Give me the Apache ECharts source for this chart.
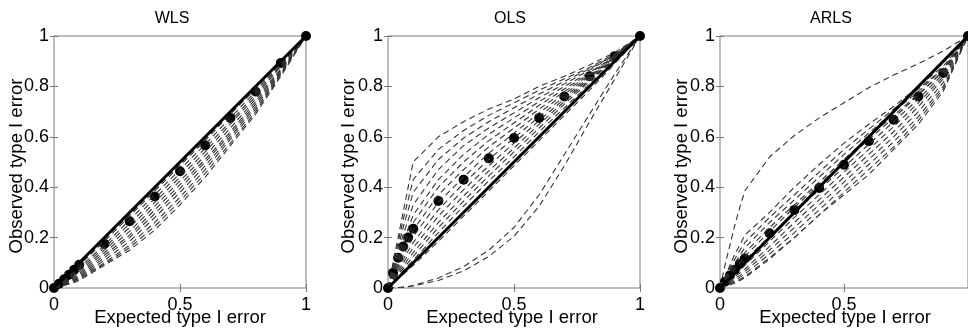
<!DOCTYPE html>
<html><head><meta charset="utf-8">
<script src="https://cdn.jsdelivr.net/npm/echarts@6/dist/echarts.min.js"></script>
<style>html,body{margin:0;padding:0;background:#fff}#c{width:968px;height:334px}</style>
</head><body><div id="c"></div><script>
// Expected type I error (x positions of every curve)
const xs = [0, 0.02, 0.04, 0.06, 0.08, 0.1, 0.2, 0.3, 0.4, 0.5, 0.6, 0.7, 0.8, 0.9, 1];
const xTicks = ['0', '0.5', '1'];
const yTicks = ['0', '0.2', '0.4', '0.6', '0.8', '1'];
const panelTitles = ['WLS', 'OLS', 'ARLS'];
const diag = [[0, 0], [1, 1]];

// Mean observed type I error (dots)
const wlsMean  = [0, .017, .035, .053, .072, .092, .175, .265, .363, .463, .566, .675, .78, .893, 1];
const olsMean  = [0, .06, .12, .165, .2, .235, .345, .43, .515, .595, .675, .76, .84, .92, 1];
const arlsMean = [0, .025, .05, .072, .095, .117, .217, .31, .397, .489, .582, .668, .76, .853, 1];

// Individual simulation curves (dashed)
const wlsCurves = [
  [0, .02, .04, .06, .08, .1, .2, .3, .4, .5, .6, .7, .8, .9, 1],
  [0, .019, .038, .057, .076, .095, .192, .292, .392, .492, .592, .695, .795, .897, 1],
  [0, .018, .036, .054, .072, .09, .185, .285, .385, .485, .585, .69, .79, .895, 1],
  [0, .016, .032, .048, .064, .08, .17, .27, .37, .47, .57, .675, .78, .89, 1],
  [0, .014, .028, .042, .056, .072, .16, .255, .355, .455, .555, .66, .77, .885, 1],
  [0, .012, .025, .037, .05, .065, .15, .24, .34, .44, .54, .65, .76, .88, 1],
  [0, .011, .022, .033, .045, .058, .14, .225, .325, .425, .525, .635, .75, .87, 1],
  [0, .01, .02, .03, .04, .052, .13, .21, .31, .41, .51, .62, .74, .865, 1],
  [0, .009, .018, .027, .036, .047, .12, .2, .295, .395, .5, .61, .73, .86, 1],
  [0, .008, .016, .024, .032, .043, .11, .185, .28, .38, .485, .6, .72, .855, 1],
  [0, .007, .014, .021, .029, .04, .1, .17, .26, .36, .47, .59, .71, .85, 1],
  [0, .006, .012, .018, .025, .035, .095, .16, .245, .345, .455, .575, .7, .845, 1],
  [0, .005, .01, .016, .022, .03, .09, .15, .23, .33, .44, .565, .69, .84, 1]
];
const olsCurves = [
  [0, .1, .2, .3, .4, .5, .6, .66, .71, .75, .8, .84, .885, .935, 1],
  [0, .09, .18, .27, .35, .43, .55, .625, .685, .735, .785, .83, .875, .93, 1],
  [0, .08, .16, .24, .31, .38, .51, .595, .66, .715, .77, .82, .87, .925, 1],
  [0, .07, .14, .21, .27, .33, .47, .565, .635, .695, .755, .81, .865, .925, 1],
  [0, .062, .124, .18, .235, .29, .43, .53, .61, .675, .74, .8, .855, .92, 1],
  [0, .055, .11, .16, .21, .26, .4, .5, .585, .655, .725, .79, .85, .92, 1],
  [0, .05, .097, .142, .185, .23, .37, .47, .56, .635, .71, .78, .845, .915, 1],
  [0, .044, .086, .126, .165, .205, .34, .44, .535, .615, .695, .77, .84, .915, 1],
  [0, .039, .076, .112, .147, .18, .31, .415, .51, .595, .68, .76, .835, .915, 1],
  [0, .034, .067, .099, .13, .16, .285, .39, .485, .575, .665, .75, .83, .91, 1],
  [0, .03, .059, .087, .115, .14, .26, .365, .465, .555, .65, .74, .825, .91, 1],
  [0, .026, .052, .077, .101, .125, .24, .345, .445, .54, .635, .73, .82, .91, 1],
  [0, .023, .046, .068, .09, .11, .22, .325, .425, .52, .62, .715, .81, .905, 1],
  [0, .02, .04, .06, .08, .1, .2, .3, .4, .5, .6, .7, .8, .9, 1],
  [0, .018, .036, .054, .072, .09, .185, .285, .385, .485, .585, .685, .785, .89, 1],
  [0, .001, .002, .004, .006, .01, .04, .085, .15, .24, .37, .53, .69, .85, 1],
  [0, .001, .002, .003, .005, .008, .03, .068, .125, .205, .325, .485, .66, .83, 1]
];
const arlsCurves = [
  [0, .09, .17, .25, .32, .385, .52, .605, .675, .735, .795, .845, .89, .94, 1],
  [0, .045, .09, .135, .17, .21, .3, .4, .49, .575, .65, .72, .8, .88, 1],
  [0, .04, .08, .115, .15, .18, .28, .37, .46, .55, .63, .71, .79, .87, 1],
  [0, .035, .07, .1, .13, .16, .26, .35, .44, .53, .615, .7, .78, .87, 1],
  [0, .03, .06, .09, .115, .14, .24, .33, .42, .51, .6, .685, .77, .86, 1],
  [0, .025, .05, .075, .1, .125, .225, .32, .41, .5, .59, .675, .765, .86, 1],
  [0, .022, .044, .066, .088, .11, .205, .3, .39, .48, .57, .66, .75, .85, 1],
  [0, .018, .036, .054, .072, .09, .185, .28, .37, .46, .55, .64, .735, .84, 1],
  [0, .015, .03, .045, .06, .075, .165, .26, .35, .44, .53, .62, .72, .83, 1],
  [0, .012, .025, .037, .05, .065, .15, .24, .33, .42, .51, .6, .7, .815, 1],
  [0, .01, .02, .03, .042, .055, .135, .22, .31, .4, .49, .58, .68, .8, 1],
  [0, .008, .016, .024, .034, .045, .12, .2, .29, .38, .47, .56, .665, .79, 1],
  [0, .006, .012, .02, .03, .04, .115, .2, .29, .37, .45, .55, .65, .78, 1]
];

const means = [wlsMean, olsMean, arlsMean];
const curves = [wlsCurves, olsCurves, arlsCurves];

// layout (pixels)
const FONT = "'Liberation Sans', Arial, Helvetica, sans-serif";
const grids = [
  {left: 54, top: 36, width: 252, height: 252},
  {left: 388, top: 36, width: 252, height: 252},
  {left: 720, top: 36, width: 248, height: 252}
];
const titleX = [172, 510, 831];
const xNameX = [180, 512, 845];
const yNameX = [17, 349, 682];
const showLastX = [true, true, false];

const axisGray = '#7a7a7a';
const xAxes = [], yAxes = [], series = [], graphics = [];
grids.forEach((g, i) => {
  const tick = {inside: true, length: 4, lineStyle: {color: axisGray, width: 1}};
  xAxes.push({type: 'value', gridIndex: i, min: 0, max: 1, interval: 0.5, position: 'bottom',
    axisLine: {show: false}, axisTick: tick, splitLine: {show: false},
    axisLabel: {margin: 8, fontSize: 18, color: '#000', fontFamily: FONT, showMaxLabel: showLastX[i],
      formatter: v => xTicks[Math.round(v * 2)]}});
  xAxes.push({type: 'value', gridIndex: i, min: 0, max: 1, interval: 0.5, position: 'top',
    axisLine: {show: false}, axisTick: tick, splitLine: {show: false}, axisLabel: {show: false}});
  yAxes.push({type: 'value', gridIndex: i, min: 0, max: 1, interval: 0.2, position: 'left',
    axisLine: {show: false}, axisTick: tick, splitLine: {show: false},
    axisLabel: {margin: 5, fontSize: 18, color: '#000', fontFamily: FONT,
      formatter: v => yTicks[Math.round(v * 5)]}});
  yAxes.push({type: 'value', gridIndex: i, min: 0, max: 1, interval: 0.2, position: 'right',
    axisLine: {show: false}, axisTick: tick, splitLine: {show: false}, axisLabel: {show: false}});

  curves[i].forEach(c => {
    series.push({type: 'line', xAxisIndex: 2 * i, yAxisIndex: 2 * i, symbol: 'none', silent: true,
      data: xs.map((x, k) => [x, c[k]]),
      lineStyle: {type: [6, 4], width: 1.1, color: '#333'}});
  });
  series.push({type: 'line', xAxisIndex: 2 * i, yAxisIndex: 2 * i, symbol: 'none', silent: true,
    data: diag, lineStyle: {width: 3, color: '#000'}});
  series.push({type: 'scatter', xAxisIndex: 2 * i, yAxisIndex: 2 * i, symbolSize: 10, silent: true,
    data: xs.map((x, k) => [x, means[i][k]]), itemStyle: {color: '#000', opacity: 1}});

  graphics.push({type: 'text', x: titleX[i], y: 19, silent: true,
    style: {text: panelTitles[i], fill: '#000', font: '16px ' + FONT, align: 'center', verticalAlign: 'middle'}});
  graphics.push({type: 'text', x: xNameX[i], y: 318, silent: true,
    style: {text: 'Expected type I error', fill: '#000', font: '18.5px ' + FONT, align: 'center', verticalAlign: 'middle'}});
  graphics.push({type: 'text', x: yNameX[i], y: 166, rotation: Math.PI / 2, silent: true,
    style: {text: 'Observed type I error', fill: '#000', font: '18.5px ' + FONT, align: 'center', verticalAlign: 'middle'}});
});

const chart = echarts.init(document.getElementById('c'));
chart.setOption({
  animation: false,
  backgroundColor: '#fff',
  grid: grids.map(g => Object.assign({show: true, borderColor: axisGray, borderWidth: 1, backgroundColor: 'transparent'}, g)),
  xAxis: xAxes,
  yAxis: yAxes,
  series: series,
  graphic: graphics
});
</script></body></html>
